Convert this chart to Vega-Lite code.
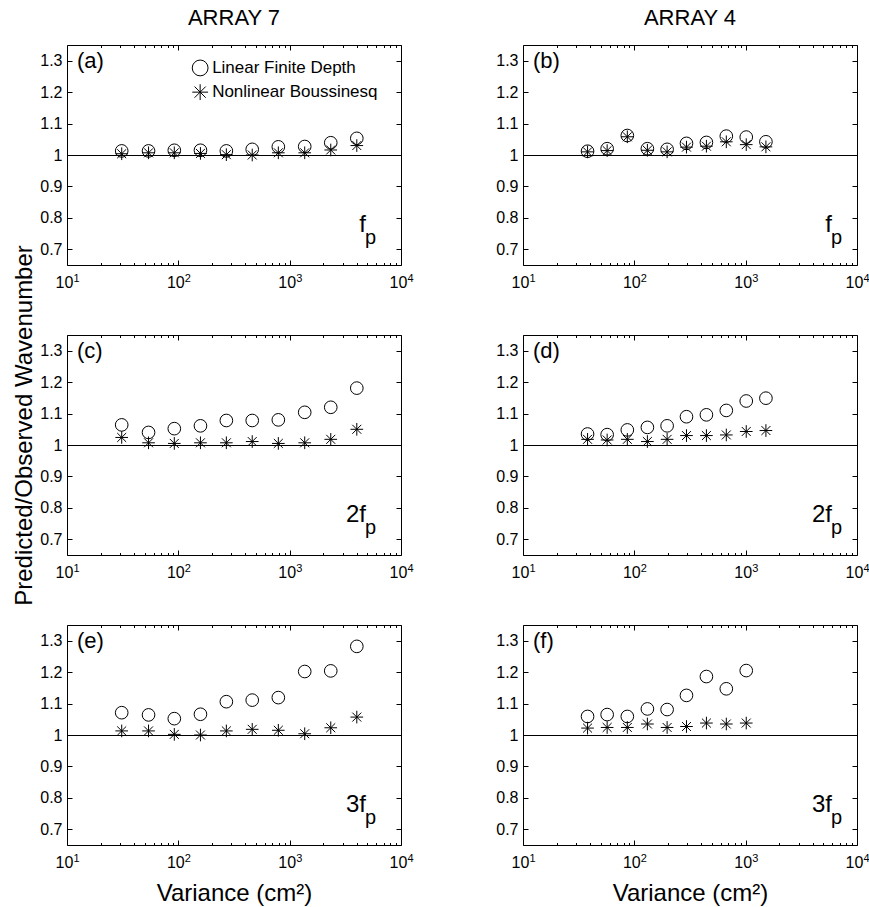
{
  "$schema": "https://vega.github.io/schema/vega-lite/v6.json",
  "background": "white",
  "padding": {"left": 12, "top": 6, "right": 0, "bottom": 2},
  "datasets": {
    "pts": [
      {"p":"a","m":"Linear Finite Depth","v":31,"r":1.013},
      {"p":"a","m":"Linear Finite Depth","v":54,"r":1.013},
      {"p":"a","m":"Linear Finite Depth","v":92,"r":1.015},
      {"p":"a","m":"Linear Finite Depth","v":158,"r":1.015},
      {"p":"a","m":"Linear Finite Depth","v":270,"r":1.013},
      {"p":"a","m":"Linear Finite Depth","v":461,"r":1.018},
      {"p":"a","m":"Linear Finite Depth","v":791,"r":1.026},
      {"p":"a","m":"Linear Finite Depth","v":1365,"r":1.027},
      {"p":"a","m":"Linear Finite Depth","v":2339,"r":1.039},
      {"p":"a","m":"Linear Finite Depth","v":4009,"r":1.053},
      {"p":"a","m":"Nonlinear Boussinesq","v":31,"r":1.004},
      {"p":"a","m":"Nonlinear Boussinesq","v":54,"r":1.007},
      {"p":"a","m":"Nonlinear Boussinesq","v":92,"r":1.007},
      {"p":"a","m":"Nonlinear Boussinesq","v":158,"r":1.005},
      {"p":"a","m":"Nonlinear Boussinesq","v":270,"r":1.001},
      {"p":"a","m":"Nonlinear Boussinesq","v":461,"r":1.0},
      {"p":"a","m":"Nonlinear Boussinesq","v":791,"r":1.007},
      {"p":"a","m":"Nonlinear Boussinesq","v":1365,"r":1.007},
      {"p":"a","m":"Nonlinear Boussinesq","v":2339,"r":1.016},
      {"p":"a","m":"Nonlinear Boussinesq","v":4009,"r":1.03},
      {"p":"b","m":"Linear Finite Depth","v":38,"r":1.012},
      {"p":"b","m":"Linear Finite Depth","v":57,"r":1.02},
      {"p":"b","m":"Linear Finite Depth","v":86.5,"r":1.062},
      {"p":"b","m":"Linear Finite Depth","v":131,"r":1.02},
      {"p":"b","m":"Linear Finite Depth","v":197,"r":1.018},
      {"p":"b","m":"Linear Finite Depth","v":294,"r":1.037},
      {"p":"b","m":"Linear Finite Depth","v":444,"r":1.04},
      {"p":"b","m":"Linear Finite Depth","v":670,"r":1.06},
      {"p":"b","m":"Linear Finite Depth","v":1012,"r":1.057},
      {"p":"b","m":"Linear Finite Depth","v":1520,"r":1.042},
      {"p":"b","m":"Nonlinear Boussinesq","v":38,"r":1.01},
      {"p":"b","m":"Nonlinear Boussinesq","v":57,"r":1.014},
      {"p":"b","m":"Nonlinear Boussinesq","v":86.5,"r":1.058},
      {"p":"b","m":"Nonlinear Boussinesq","v":131,"r":1.015},
      {"p":"b","m":"Nonlinear Boussinesq","v":197,"r":1.01},
      {"p":"b","m":"Nonlinear Boussinesq","v":294,"r":1.025},
      {"p":"b","m":"Nonlinear Boussinesq","v":444,"r":1.028},
      {"p":"b","m":"Nonlinear Boussinesq","v":670,"r":1.042},
      {"p":"b","m":"Nonlinear Boussinesq","v":1012,"r":1.033},
      {"p":"b","m":"Nonlinear Boussinesq","v":1520,"r":1.026},
      {"p":"c","m":"Linear Finite Depth","v":31,"r":1.064},
      {"p":"c","m":"Linear Finite Depth","v":54,"r":1.040},
      {"p":"c","m":"Linear Finite Depth","v":92,"r":1.052},
      {"p":"c","m":"Linear Finite Depth","v":158,"r":1.061},
      {"p":"c","m":"Linear Finite Depth","v":270,"r":1.078},
      {"p":"c","m":"Linear Finite Depth","v":461,"r":1.078},
      {"p":"c","m":"Linear Finite Depth","v":791,"r":1.08},
      {"p":"c","m":"Linear Finite Depth","v":1365,"r":1.104},
      {"p":"c","m":"Linear Finite Depth","v":2339,"r":1.12},
      {"p":"c","m":"Linear Finite Depth","v":4009,"r":1.181},
      {"p":"c","m":"Nonlinear Boussinesq","v":31,"r":1.024},
      {"p":"c","m":"Nonlinear Boussinesq","v":54,"r":1.007},
      {"p":"c","m":"Nonlinear Boussinesq","v":92,"r":1.005},
      {"p":"c","m":"Nonlinear Boussinesq","v":158,"r":1.007},
      {"p":"c","m":"Nonlinear Boussinesq","v":270,"r":1.007},
      {"p":"c","m":"Nonlinear Boussinesq","v":461,"r":1.011},
      {"p":"c","m":"Nonlinear Boussinesq","v":791,"r":1.005},
      {"p":"c","m":"Nonlinear Boussinesq","v":1365,"r":1.007},
      {"p":"c","m":"Nonlinear Boussinesq","v":2339,"r":1.018},
      {"p":"c","m":"Nonlinear Boussinesq","v":4009,"r":1.05},
      {"p":"d","m":"Linear Finite Depth","v":38,"r":1.035},
      {"p":"d","m":"Linear Finite Depth","v":57,"r":1.033},
      {"p":"d","m":"Linear Finite Depth","v":86.5,"r":1.048},
      {"p":"d","m":"Linear Finite Depth","v":131,"r":1.056},
      {"p":"d","m":"Linear Finite Depth","v":197,"r":1.061},
      {"p":"d","m":"Linear Finite Depth","v":294,"r":1.09},
      {"p":"d","m":"Linear Finite Depth","v":444,"r":1.096},
      {"p":"d","m":"Linear Finite Depth","v":670,"r":1.11},
      {"p":"d","m":"Linear Finite Depth","v":1012,"r":1.14},
      {"p":"d","m":"Linear Finite Depth","v":1520,"r":1.149},
      {"p":"d","m":"Nonlinear Boussinesq","v":38,"r":1.018},
      {"p":"d","m":"Nonlinear Boussinesq","v":57,"r":1.016},
      {"p":"d","m":"Nonlinear Boussinesq","v":86.5,"r":1.018},
      {"p":"d","m":"Nonlinear Boussinesq","v":131,"r":1.011},
      {"p":"d","m":"Nonlinear Boussinesq","v":197,"r":1.018},
      {"p":"d","m":"Nonlinear Boussinesq","v":294,"r":1.03},
      {"p":"d","m":"Nonlinear Boussinesq","v":444,"r":1.03},
      {"p":"d","m":"Nonlinear Boussinesq","v":670,"r":1.032},
      {"p":"d","m":"Nonlinear Boussinesq","v":1012,"r":1.043},
      {"p":"d","m":"Nonlinear Boussinesq","v":1520,"r":1.046},
      {"p":"e","m":"Linear Finite Depth","v":31,"r":1.071},
      {"p":"e","m":"Linear Finite Depth","v":54,"r":1.064},
      {"p":"e","m":"Linear Finite Depth","v":92,"r":1.052},
      {"p":"e","m":"Linear Finite Depth","v":158,"r":1.066},
      {"p":"e","m":"Linear Finite Depth","v":270,"r":1.106},
      {"p":"e","m":"Linear Finite Depth","v":461,"r":1.111},
      {"p":"e","m":"Linear Finite Depth","v":791,"r":1.119},
      {"p":"e","m":"Linear Finite Depth","v":1365,"r":1.202},
      {"p":"e","m":"Linear Finite Depth","v":2339,"r":1.204},
      {"p":"e","m":"Linear Finite Depth","v":4009,"r":1.282},
      {"p":"e","m":"Nonlinear Boussinesq","v":31,"r":1.013},
      {"p":"e","m":"Nonlinear Boussinesq","v":54,"r":1.013},
      {"p":"e","m":"Nonlinear Boussinesq","v":92,"r":1.002},
      {"p":"e","m":"Nonlinear Boussinesq","v":158,"r":1.0},
      {"p":"e","m":"Nonlinear Boussinesq","v":270,"r":1.013},
      {"p":"e","m":"Nonlinear Boussinesq","v":461,"r":1.018},
      {"p":"e","m":"Nonlinear Boussinesq","v":791,"r":1.015},
      {"p":"e","m":"Nonlinear Boussinesq","v":1365,"r":1.004},
      {"p":"e","m":"Nonlinear Boussinesq","v":2339,"r":1.023},
      {"p":"e","m":"Nonlinear Boussinesq","v":4009,"r":1.057},
      {"p":"f","m":"Linear Finite Depth","v":38,"r":1.059},
      {"p":"f","m":"Linear Finite Depth","v":57,"r":1.065},
      {"p":"f","m":"Linear Finite Depth","v":86.5,"r":1.059},
      {"p":"f","m":"Linear Finite Depth","v":131,"r":1.083},
      {"p":"f","m":"Linear Finite Depth","v":197,"r":1.081},
      {"p":"f","m":"Linear Finite Depth","v":294,"r":1.126},
      {"p":"f","m":"Linear Finite Depth","v":444,"r":1.186},
      {"p":"f","m":"Linear Finite Depth","v":670,"r":1.147},
      {"p":"f","m":"Linear Finite Depth","v":1012,"r":1.205},
      {"p":"f","m":"Nonlinear Boussinesq","v":38,"r":1.022},
      {"p":"f","m":"Nonlinear Boussinesq","v":57,"r":1.024},
      {"p":"f","m":"Nonlinear Boussinesq","v":86.5,"r":1.024},
      {"p":"f","m":"Nonlinear Boussinesq","v":131,"r":1.035},
      {"p":"f","m":"Nonlinear Boussinesq","v":197,"r":1.024},
      {"p":"f","m":"Nonlinear Boussinesq","v":294,"r":1.027},
      {"p":"f","m":"Nonlinear Boussinesq","v":444,"r":1.038},
      {"p":"f","m":"Nonlinear Boussinesq","v":670,"r":1.035},
      {"p":"f","m":"Nonlinear Boussinesq","v":1012,"r":1.038}
    ]
  },
  "columns": 2,
  "align": "all",
  "bounds": "flush",
  "spacing": {"row": 70, "column": 122},
  "concat": [
    {
      "width": 334, "height": 220,
      "title": {"text": "ARRAY 7"},
      "layer": [
        {"data": {"values": [{}]}, "mark": {"type": "rule", "color": "black", "strokeWidth": 1, "yOffset": 0.5},
         "encoding": {"y": {"datum": 1, "type": "quantitative", "scale": {"domain": [0.65, 1.35], "nice": false, "zero": false}, "axis": null}}},
        {"data": {"name": "pts"}, "transform": [{"filter": "datum.p == 'a'"}],
         "mark": {"type": "point", "filled": false, "stroke": "black", "strokeWidth": 1, "size": 160, "opacity": 1},
         "encoding": {
           "x": {"field": "v", "type": "quantitative", "scale": {"type": "log", "domain": [10, 10000], "nice": false},
                 "axis": {"orient": "bottom", "title": null, "values": [10,20,30,40,50,60,70,80,90,100,200,300,400,500,600,700,800,900,1000,2000,3000,4000,5000,6000,7000,8000,9000,10000],
                          "labelExpr": "indexof([10,100,1000,10000], datum.value) >= 0 ? '10' : ''", "labelOffset": -3,
                          "tickSize": {"condition": {"test": "indexof([10,100,1000,10000], datum.value) >= 0", "value": -5}, "value": -2.5},
                          "labelPadding": 14.5}},
           "y": {"field": "r", "type": "quantitative", "scale": {"domain": [0.65, 1.35], "nice": false, "zero": false},
                 "axis": {"orient": "left", "title": null, "values": [0.7,0.8,0.9,1,1.1,1.2,1.3], "format": ".1~f", "tickSize": -5, "labelPadding": 10}},
           "shape": {"field": "m", "type": "nominal",
                     "scale": {"domain": ["Linear Finite Depth", "Nonlinear Boussinesq"], "range": ["circle", "M-1,0L1,0M0,-1L0,1M-0.7071,-0.7071L0.7071,0.7071M-0.7071,0.7071L0.7071,-0.7071"]},
                     "legend": null}
         }},
        {"data": {"values": [{}]}, "mark": {"type": "text", "text": "(a)", "align": "left", "baseline": "middle", "dx": 10, "fontSize": 22},
         "encoding": {
           "x": {"datum": 10, "type": "quantitative", "scale": {"type": "log", "domain": [10, 10000], "nice": false},
                 "axis": {"orient": "top", "title": null, "labels": false, "values": [10,20,30,40,50,60,70,80,90,100,200,300,400,500,600,700,800,900,1000,2000,3000,4000,5000,6000,7000,8000,9000,10000],
                          "tickSize": {"condition": {"test": "indexof([10,100,1000,10000], datum.value) >= 0", "value": -5}, "value": -2.5}}},
           "y": {"datum": 1.3, "type": "quantitative", "scale": {"domain": [0.65, 1.35], "nice": false, "zero": false},
                 "axis": {"orient": "right", "title": null, "labels": false, "values": [0.7,0.8,0.9,1,1.1,1.2,1.3], "tickSize": -5}}
         }},
        {"data": {"values": [{}]}, "mark": {"type": "point", "shape": "circle", "filled": false, "stroke": "black", "strokeWidth": 1, "size": 250, "opacity": 1},
         "encoding": {"x": {"datum": 157, "type": "quantitative", "axis": null}, "y": {"datum": 1.277, "type": "quantitative", "axis": null}}},
        {"data": {"values": [{}]}, "mark": {"type": "point", "shape": "M-1,0L1,0M0,-1L0,1M-0.7071,-0.7071L0.7071,0.7071M-0.7071,0.7071L0.7071,-0.7071", "filled": false, "stroke": "black", "strokeWidth": 1, "size": 250, "opacity": 1},
         "encoding": {"x": {"datum": 157, "type": "quantitative", "axis": null}, "y": {"datum": 1.2, "type": "quantitative", "axis": null}}},
        {"data": {"values": [{}]}, "mark": {"type": "text", "text": "Linear Finite Depth", "align": "left", "baseline": "middle", "dx": 12, "fontSize": 17},
         "encoding": {"x": {"datum": 157, "type": "quantitative", "axis": null}, "y": {"datum": 1.277, "type": "quantitative", "axis": null}}},
        {"data": {"values": [{}]}, "mark": {"type": "text", "text": "Nonlinear Boussinesq", "align": "left", "baseline": "middle", "dx": 12, "fontSize": 17},
         "encoding": {"x": {"datum": 157, "type": "quantitative", "axis": null}, "y": {"datum": 1.2, "type": "quantitative", "axis": null}}},
        {"data": {"values": [{}]}, "mark": {"type": "text", "text": "f", "align": "right", "baseline": "alphabetic", "fontSize": 24},
         "encoding": {"x": {"datum": 4840, "type": "quantitative",
                            "axis": {"orient": "bottom", "title": null, "ticks": false, "values": [10,100,1000,10000], "labelExpr": "datum.value == 10 ? '1' : datum.value == 100 ? '2' : datum.value == 1000 ? '3' : '4'", "labelFontSize": 11, "labelAlign": "left", "labelOffset": 6, "labelPadding": 7}},
                      "y": {"datum": 0.754, "type": "quantitative", "axis": null}}},
        {"data": {"values": [{}]}, "mark": {"type": "text", "text": "p", "align": "left", "baseline": "alphabetic", "dx": -1, "fontSize": 20},
         "encoding": {"x": {"datum": 4840, "type": "quantitative", "axis": null}, "y": {"datum": 0.716, "type": "quantitative", "axis": null}}}
      ],
      "resolve": {"axis": {"x": "independent", "y": "independent"}}
    },
    {
      "width": 334, "height": 220,
      "title": {"text": "ARRAY 4"},
      "layer": [
        {"data": {"values": [{}]}, "mark": {"type": "rule", "color": "black", "strokeWidth": 1, "yOffset": 0.5},
         "encoding": {"y": {"datum": 1, "type": "quantitative", "scale": {"domain": [0.65, 1.35], "nice": false, "zero": false}, "axis": null}}},
        {"data": {"name": "pts"}, "transform": [{"filter": "datum.p == 'b'"}],
         "mark": {"type": "point", "filled": false, "stroke": "black", "strokeWidth": 1, "size": 160, "opacity": 1},
         "encoding": {
           "x": {"field": "v", "type": "quantitative", "scale": {"type": "log", "domain": [10, 10000], "nice": false},
                 "axis": {"orient": "bottom", "title": null, "values": [10,20,30,40,50,60,70,80,90,100,200,300,400,500,600,700,800,900,1000,2000,3000,4000,5000,6000,7000,8000,9000,10000],
                          "labelExpr": "indexof([10,100,1000,10000], datum.value) >= 0 ? '10' : ''", "labelOffset": -3,
                          "tickSize": {"condition": {"test": "indexof([10,100,1000,10000], datum.value) >= 0", "value": -5}, "value": -2.5},
                          "labelPadding": 14.5}},
           "y": {"field": "r", "type": "quantitative", "scale": {"domain": [0.65, 1.35], "nice": false, "zero": false},
                 "axis": {"orient": "left", "title": null, "values": [0.7,0.8,0.9,1,1.1,1.2,1.3], "format": ".1~f", "tickSize": -5, "labelPadding": 10}},
           "shape": {"field": "m", "type": "nominal",
                     "scale": {"domain": ["Linear Finite Depth", "Nonlinear Boussinesq"], "range": ["circle", "M-1,0L1,0M0,-1L0,1M-0.7071,-0.7071L0.7071,0.7071M-0.7071,0.7071L0.7071,-0.7071"]},
                     "legend": null}
         }},
        {"data": {"values": [{}]}, "mark": {"type": "text", "text": "(b)", "align": "left", "baseline": "middle", "dx": 10, "fontSize": 22},
         "encoding": {
           "x": {"datum": 10, "type": "quantitative", "scale": {"type": "log", "domain": [10, 10000], "nice": false},
                 "axis": {"orient": "top", "title": null, "labels": false, "values": [10,20,30,40,50,60,70,80,90,100,200,300,400,500,600,700,800,900,1000,2000,3000,4000,5000,6000,7000,8000,9000,10000],
                          "tickSize": {"condition": {"test": "indexof([10,100,1000,10000], datum.value) >= 0", "value": -5}, "value": -2.5}}},
           "y": {"datum": 1.3, "type": "quantitative", "scale": {"domain": [0.65, 1.35], "nice": false, "zero": false},
                 "axis": {"orient": "right", "title": null, "labels": false, "values": [0.7,0.8,0.9,1,1.1,1.2,1.3], "tickSize": -5}}
         }},
        {"data": {"values": [{}]}, "mark": {"type": "text", "text": "f", "align": "right", "baseline": "alphabetic", "fontSize": 24},
         "encoding": {"x": {"datum": 5960, "type": "quantitative",
                            "axis": {"orient": "bottom", "title": null, "ticks": false, "values": [10,100,1000,10000], "labelExpr": "datum.value == 10 ? '1' : datum.value == 100 ? '2' : datum.value == 1000 ? '3' : '4'", "labelFontSize": 11, "labelAlign": "left", "labelOffset": 6, "labelPadding": 7}},
                      "y": {"datum": 0.754, "type": "quantitative", "axis": null}}},
        {"data": {"values": [{}]}, "mark": {"type": "text", "text": "p", "align": "left", "baseline": "alphabetic", "dx": -1, "fontSize": 20},
         "encoding": {"x": {"datum": 5960, "type": "quantitative", "axis": null}, "y": {"datum": 0.716, "type": "quantitative", "axis": null}}}
      ],
      "resolve": {"axis": {"x": "independent", "y": "independent"}}
    },
    {
      "width": 334, "height": 220,
      "layer": [
        {"data": {"values": [{}]}, "mark": {"type": "rule", "color": "black", "strokeWidth": 1, "yOffset": 0.5},
         "encoding": {"y": {"datum": 1, "type": "quantitative", "scale": {"domain": [0.65, 1.35], "nice": false, "zero": false}, "axis": null}}},
        {"data": {"name": "pts"}, "transform": [{"filter": "datum.p == 'c'"}],
         "mark": {"type": "point", "filled": false, "stroke": "black", "strokeWidth": 1, "size": 160, "opacity": 1},
         "encoding": {
           "x": {"field": "v", "type": "quantitative", "scale": {"type": "log", "domain": [10, 10000], "nice": false},
                 "axis": {"orient": "bottom", "title": null, "values": [10,20,30,40,50,60,70,80,90,100,200,300,400,500,600,700,800,900,1000,2000,3000,4000,5000,6000,7000,8000,9000,10000],
                          "labelExpr": "indexof([10,100,1000,10000], datum.value) >= 0 ? '10' : ''", "labelOffset": -3,
                          "tickSize": {"condition": {"test": "indexof([10,100,1000,10000], datum.value) >= 0", "value": -5}, "value": -2.5},
                          "labelPadding": 14.5}},
           "y": {"field": "r", "type": "quantitative", "scale": {"domain": [0.65, 1.35], "nice": false, "zero": false},
                 "axis": {"orient": "left", "title": "Predicted/Observed Wavenumber", "titleY": 90, "values": [0.7,0.8,0.9,1,1.1,1.2,1.3], "format": ".1~f", "tickSize": -5, "labelPadding": 10}},
           "shape": {"field": "m", "type": "nominal",
                     "scale": {"domain": ["Linear Finite Depth", "Nonlinear Boussinesq"], "range": ["circle", "M-1,0L1,0M0,-1L0,1M-0.7071,-0.7071L0.7071,0.7071M-0.7071,0.7071L0.7071,-0.7071"]},
                     "legend": null}
         }},
        {"data": {"values": [{}]}, "mark": {"type": "text", "text": "(c)", "align": "left", "baseline": "middle", "dx": 10, "fontSize": 22},
         "encoding": {
           "x": {"datum": 10, "type": "quantitative", "scale": {"type": "log", "domain": [10, 10000], "nice": false},
                 "axis": {"orient": "top", "title": null, "labels": false, "values": [10,20,30,40,50,60,70,80,90,100,200,300,400,500,600,700,800,900,1000,2000,3000,4000,5000,6000,7000,8000,9000,10000],
                          "tickSize": {"condition": {"test": "indexof([10,100,1000,10000], datum.value) >= 0", "value": -5}, "value": -2.5}}},
           "y": {"datum": 1.3, "type": "quantitative", "scale": {"domain": [0.65, 1.35], "nice": false, "zero": false},
                 "axis": {"orient": "right", "title": null, "labels": false, "values": [0.7,0.8,0.9,1,1.1,1.2,1.3], "tickSize": -5}}
         }},
        {"data": {"values": [{}]}, "mark": {"type": "text", "text": "2f", "align": "right", "baseline": "alphabetic", "fontSize": 24},
         "encoding": {"x": {"datum": 4840, "type": "quantitative",
                            "axis": {"orient": "bottom", "title": null, "ticks": false, "values": [10,100,1000,10000], "labelExpr": "datum.value == 10 ? '1' : datum.value == 100 ? '2' : datum.value == 1000 ? '3' : '4'", "labelFontSize": 11, "labelAlign": "left", "labelOffset": 6, "labelPadding": 7}},
                      "y": {"datum": 0.754, "type": "quantitative", "axis": null}}},
        {"data": {"values": [{}]}, "mark": {"type": "text", "text": "p", "align": "left", "baseline": "alphabetic", "dx": -1, "fontSize": 20},
         "encoding": {"x": {"datum": 4840, "type": "quantitative", "axis": null}, "y": {"datum": 0.716, "type": "quantitative", "axis": null}}}
      ],
      "resolve": {"axis": {"x": "independent", "y": "independent"}}
    },
    {
      "width": 334, "height": 220,
      "layer": [
        {"data": {"values": [{}]}, "mark": {"type": "rule", "color": "black", "strokeWidth": 1, "yOffset": 0.5},
         "encoding": {"y": {"datum": 1, "type": "quantitative", "scale": {"domain": [0.65, 1.35], "nice": false, "zero": false}, "axis": null}}},
        {"data": {"name": "pts"}, "transform": [{"filter": "datum.p == 'd'"}],
         "mark": {"type": "point", "filled": false, "stroke": "black", "strokeWidth": 1, "size": 160, "opacity": 1},
         "encoding": {
           "x": {"field": "v", "type": "quantitative", "scale": {"type": "log", "domain": [10, 10000], "nice": false},
                 "axis": {"orient": "bottom", "title": null, "values": [10,20,30,40,50,60,70,80,90,100,200,300,400,500,600,700,800,900,1000,2000,3000,4000,5000,6000,7000,8000,9000,10000],
                          "labelExpr": "indexof([10,100,1000,10000], datum.value) >= 0 ? '10' : ''", "labelOffset": -3,
                          "tickSize": {"condition": {"test": "indexof([10,100,1000,10000], datum.value) >= 0", "value": -5}, "value": -2.5},
                          "labelPadding": 14.5}},
           "y": {"field": "r", "type": "quantitative", "scale": {"domain": [0.65, 1.35], "nice": false, "zero": false},
                 "axis": {"orient": "left", "title": null, "values": [0.7,0.8,0.9,1,1.1,1.2,1.3], "format": ".1~f", "tickSize": -5, "labelPadding": 10}},
           "shape": {"field": "m", "type": "nominal",
                     "scale": {"domain": ["Linear Finite Depth", "Nonlinear Boussinesq"], "range": ["circle", "M-1,0L1,0M0,-1L0,1M-0.7071,-0.7071L0.7071,0.7071M-0.7071,0.7071L0.7071,-0.7071"]},
                     "legend": null}
         }},
        {"data": {"values": [{}]}, "mark": {"type": "text", "text": "(d)", "align": "left", "baseline": "middle", "dx": 10, "fontSize": 22},
         "encoding": {
           "x": {"datum": 10, "type": "quantitative", "scale": {"type": "log", "domain": [10, 10000], "nice": false},
                 "axis": {"orient": "top", "title": null, "labels": false, "values": [10,20,30,40,50,60,70,80,90,100,200,300,400,500,600,700,800,900,1000,2000,3000,4000,5000,6000,7000,8000,9000,10000],
                          "tickSize": {"condition": {"test": "indexof([10,100,1000,10000], datum.value) >= 0", "value": -5}, "value": -2.5}}},
           "y": {"datum": 1.3, "type": "quantitative", "scale": {"domain": [0.65, 1.35], "nice": false, "zero": false},
                 "axis": {"orient": "right", "title": null, "labels": false, "values": [0.7,0.8,0.9,1,1.1,1.2,1.3], "tickSize": -5}}
         }},
        {"data": {"values": [{}]}, "mark": {"type": "text", "text": "2f", "align": "right", "baseline": "alphabetic", "fontSize": 24},
         "encoding": {"x": {"datum": 5960, "type": "quantitative",
                            "axis": {"orient": "bottom", "title": null, "ticks": false, "values": [10,100,1000,10000], "labelExpr": "datum.value == 10 ? '1' : datum.value == 100 ? '2' : datum.value == 1000 ? '3' : '4'", "labelFontSize": 11, "labelAlign": "left", "labelOffset": 6, "labelPadding": 7}},
                      "y": {"datum": 0.754, "type": "quantitative", "axis": null}}},
        {"data": {"values": [{}]}, "mark": {"type": "text", "text": "p", "align": "left", "baseline": "alphabetic", "dx": -1, "fontSize": 20},
         "encoding": {"x": {"datum": 5960, "type": "quantitative", "axis": null}, "y": {"datum": 0.716, "type": "quantitative", "axis": null}}}
      ],
      "resolve": {"axis": {"x": "independent", "y": "independent"}}
    },
    {
      "width": 334, "height": 220,
      "layer": [
        {"data": {"values": [{}]}, "mark": {"type": "rule", "color": "black", "strokeWidth": 1, "yOffset": 0.5},
         "encoding": {"y": {"datum": 1, "type": "quantitative", "scale": {"domain": [0.65, 1.35], "nice": false, "zero": false}, "axis": null}}},
        {"data": {"name": "pts"}, "transform": [{"filter": "datum.p == 'e'"}],
         "mark": {"type": "point", "filled": false, "stroke": "black", "strokeWidth": 1, "size": 160, "opacity": 1},
         "encoding": {
           "x": {"field": "v", "type": "quantitative", "scale": {"type": "log", "domain": [10, 10000], "nice": false},
                 "axis": {"orient": "bottom", "title": "Variance (cm²)", "titlePadding": 8, "values": [10,20,30,40,50,60,70,80,90,100,200,300,400,500,600,700,800,900,1000,2000,3000,4000,5000,6000,7000,8000,9000,10000],
                          "labelExpr": "indexof([10,100,1000,10000], datum.value) >= 0 ? '10' : ''", "labelOffset": -3,
                          "tickSize": {"condition": {"test": "indexof([10,100,1000,10000], datum.value) >= 0", "value": -5}, "value": -2.5},
                          "labelPadding": 14.5}},
           "y": {"field": "r", "type": "quantitative", "scale": {"domain": [0.65, 1.35], "nice": false, "zero": false},
                 "axis": {"orient": "left", "title": null, "values": [0.7,0.8,0.9,1,1.1,1.2,1.3], "format": ".1~f", "tickSize": -5, "labelPadding": 10}},
           "shape": {"field": "m", "type": "nominal",
                     "scale": {"domain": ["Linear Finite Depth", "Nonlinear Boussinesq"], "range": ["circle", "M-1,0L1,0M0,-1L0,1M-0.7071,-0.7071L0.7071,0.7071M-0.7071,0.7071L0.7071,-0.7071"]},
                     "legend": null}
         }},
        {"data": {"values": [{}]}, "mark": {"type": "text", "text": "(e)", "align": "left", "baseline": "middle", "dx": 10, "fontSize": 22},
         "encoding": {
           "x": {"datum": 10, "type": "quantitative", "scale": {"type": "log", "domain": [10, 10000], "nice": false},
                 "axis": {"orient": "top", "title": null, "labels": false, "values": [10,20,30,40,50,60,70,80,90,100,200,300,400,500,600,700,800,900,1000,2000,3000,4000,5000,6000,7000,8000,9000,10000],
                          "tickSize": {"condition": {"test": "indexof([10,100,1000,10000], datum.value) >= 0", "value": -5}, "value": -2.5}}},
           "y": {"datum": 1.3, "type": "quantitative", "scale": {"domain": [0.65, 1.35], "nice": false, "zero": false},
                 "axis": {"orient": "right", "title": null, "labels": false, "values": [0.7,0.8,0.9,1,1.1,1.2,1.3], "tickSize": -5}}
         }},
        {"data": {"values": [{}]}, "mark": {"type": "text", "text": "3f", "align": "right", "baseline": "alphabetic", "fontSize": 24},
         "encoding": {"x": {"datum": 4840, "type": "quantitative",
                            "axis": {"orient": "bottom", "title": null, "ticks": false, "values": [10,100,1000,10000], "labelExpr": "datum.value == 10 ? '1' : datum.value == 100 ? '2' : datum.value == 1000 ? '3' : '4'", "labelFontSize": 11, "labelAlign": "left", "labelOffset": 6, "labelPadding": 7}},
                      "y": {"datum": 0.754, "type": "quantitative", "axis": null}}},
        {"data": {"values": [{}]}, "mark": {"type": "text", "text": "p", "align": "left", "baseline": "alphabetic", "dx": -1, "fontSize": 20},
         "encoding": {"x": {"datum": 4840, "type": "quantitative", "axis": null}, "y": {"datum": 0.716, "type": "quantitative", "axis": null}}}
      ],
      "resolve": {"axis": {"x": "independent", "y": "independent"}}
    },
    {
      "width": 334, "height": 220,
      "layer": [
        {"data": {"values": [{}]}, "mark": {"type": "rule", "color": "black", "strokeWidth": 1, "yOffset": 0.5},
         "encoding": {"y": {"datum": 1, "type": "quantitative", "scale": {"domain": [0.65, 1.35], "nice": false, "zero": false}, "axis": null}}},
        {"data": {"name": "pts"}, "transform": [{"filter": "datum.p == 'f'"}],
         "mark": {"type": "point", "filled": false, "stroke": "black", "strokeWidth": 1, "size": 160, "opacity": 1},
         "encoding": {
           "x": {"field": "v", "type": "quantitative", "scale": {"type": "log", "domain": [10, 10000], "nice": false},
                 "axis": {"orient": "bottom", "title": "Variance (cm²)", "titlePadding": 8, "values": [10,20,30,40,50,60,70,80,90,100,200,300,400,500,600,700,800,900,1000,2000,3000,4000,5000,6000,7000,8000,9000,10000],
                          "labelExpr": "indexof([10,100,1000,10000], datum.value) >= 0 ? '10' : ''", "labelOffset": -3,
                          "tickSize": {"condition": {"test": "indexof([10,100,1000,10000], datum.value) >= 0", "value": -5}, "value": -2.5},
                          "labelPadding": 14.5}},
           "y": {"field": "r", "type": "quantitative", "scale": {"domain": [0.65, 1.35], "nice": false, "zero": false},
                 "axis": {"orient": "left", "title": null, "values": [0.7,0.8,0.9,1,1.1,1.2,1.3], "format": ".1~f", "tickSize": -5, "labelPadding": 10}},
           "shape": {"field": "m", "type": "nominal",
                     "scale": {"domain": ["Linear Finite Depth", "Nonlinear Boussinesq"], "range": ["circle", "M-1,0L1,0M0,-1L0,1M-0.7071,-0.7071L0.7071,0.7071M-0.7071,0.7071L0.7071,-0.7071"]},
                     "legend": null}
         }},
        {"data": {"values": [{}]}, "mark": {"type": "text", "text": "(f)", "align": "left", "baseline": "middle", "dx": 10, "fontSize": 22},
         "encoding": {
           "x": {"datum": 10, "type": "quantitative", "scale": {"type": "log", "domain": [10, 10000], "nice": false},
                 "axis": {"orient": "top", "title": null, "labels": false, "values": [10,20,30,40,50,60,70,80,90,100,200,300,400,500,600,700,800,900,1000,2000,3000,4000,5000,6000,7000,8000,9000,10000],
                          "tickSize": {"condition": {"test": "indexof([10,100,1000,10000], datum.value) >= 0", "value": -5}, "value": -2.5}}},
           "y": {"datum": 1.3, "type": "quantitative", "scale": {"domain": [0.65, 1.35], "nice": false, "zero": false},
                 "axis": {"orient": "right", "title": null, "labels": false, "values": [0.7,0.8,0.9,1,1.1,1.2,1.3], "tickSize": -5}}
         }},
        {"data": {"values": [{}]}, "mark": {"type": "text", "text": "3f", "align": "right", "baseline": "alphabetic", "fontSize": 24},
         "encoding": {"x": {"datum": 5960, "type": "quantitative",
                            "axis": {"orient": "bottom", "title": null, "ticks": false, "values": [10,100,1000,10000], "labelExpr": "datum.value == 10 ? '1' : datum.value == 100 ? '2' : datum.value == 1000 ? '3' : '4'", "labelFontSize": 11, "labelAlign": "left", "labelOffset": 6, "labelPadding": 7}},
                      "y": {"datum": 0.754, "type": "quantitative", "axis": null}}},
        {"data": {"values": [{}]}, "mark": {"type": "text", "text": "p", "align": "left", "baseline": "alphabetic", "dx": -1, "fontSize": 20},
         "encoding": {"x": {"datum": 5960, "type": "quantitative", "axis": null}, "y": {"datum": 0.716, "type": "quantitative", "axis": null}}}
      ],
      "resolve": {"axis": {"x": "independent", "y": "independent"}}
    }
  ],
  "config": {
    "font": "Liberation Sans",
    "view": {"stroke": "black", "strokeWidth": 1},
    "text": {"font": "Liberation Sans", "color": "black"},
    "axis": {"domain": false, "grid": false, "labelFont": "Liberation Sans", "labelFontSize": 16, "labelColor": "black",
             "tickColor": "black", "tickWidth": 1, "titleFont": "Liberation Sans", "titleFontSize": 24, "titleFontWeight": "normal",
             "titleColor": "black", "titlePadding": 3, "labelOverlap": false, "labelFlush": false, "labelBound": false},
    "title": {"font": "Liberation Sans", "fontSize": 22, "fontWeight": "normal", "color": "black", "offset": 15, "anchor": "middle"}
  }
}
